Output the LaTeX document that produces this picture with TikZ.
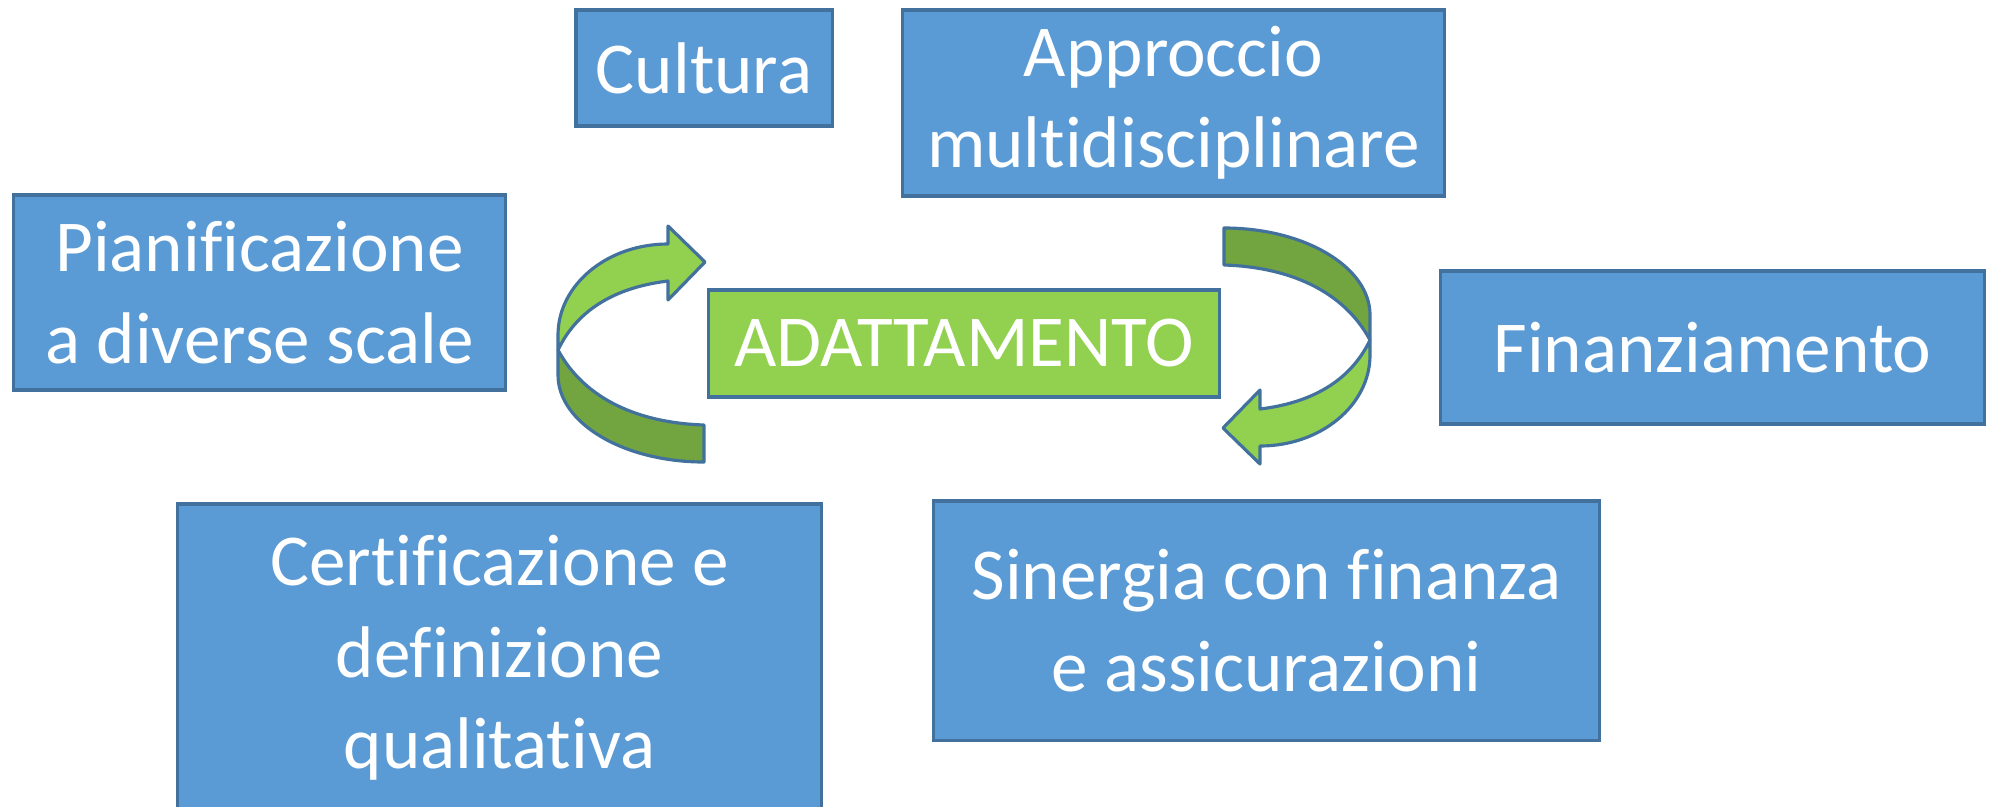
\documentclass[tikz,border=0pt]{standalone}
\usepackage{fontspec}
\setmainfont{Carlito}[Ligatures={NoCommon}]
\definecolor{boxblue}{HTML}{5B9BD5}
\definecolor{edgeblue}{HTML}{41719C}
\definecolor{lightgreen}{HTML}{92D050}
\definecolor{darkgreen}{HTML}{72A540}
\tikzset{
  bbox/.style={draw=edgeblue, fill=boxblue, line width=0.9pt, text=white,
    font=\fontsize{20.8}{26}\selectfont, align=center, inner sep=0pt},
  gbox/.style={bbox, fill=lightgreen},
  ribbon/.style={draw=edgeblue, line width=0.9pt, line join=round}
}
\newcommand{\curvedarrow}{%
  \path[ribbon, fill=darkgreen] (558,350) -- (558,375)
    .. controls (558,423) and (623.4,462) .. (704,462)
    -- (704,425)
    .. controls (640,423) and (585,400) .. (558,350) -- cycle;
  \path[ribbon, fill=lightgreen] (558,350) -- (558,335)
    .. controls (558,284.7) and (607.3,244) .. (668,244)
    -- (668,226) -- (705,262) -- (668,300) -- (668,281)
    .. controls (618,287) and (578,308) .. (558,350) -- cycle;
}
\begin{document}
\begin{tikzpicture}[x=0.01cm, y=-0.01cm]
\useasboundingbox (0,0) rectangle (1995,806);
\node[bbox, minimum width=2.56cm, minimum height=1.16cm] (cul) at (704,68) {Cultura};
\node[bbox, minimum width=5.41cm, minimum height=1.86cm] (app) at (1173.5,103) {Approccio\\multidisciplinare};
\node[bbox, minimum width=4.91cm, minimum height=1.95cm] (pia) at (259.5,292.5) {Pianificazione\\a diverse scale};
\node[bbox, minimum width=5.43cm, minimum height=1.53cm] (fin) at (1712.5,347.5) {Finanziamento};
\node[gbox, minimum width=5.10cm, minimum height=1.07cm] (ada) at (964,343.5) {ADATTAMENTO};
\node[bbox, minimum width=6.43cm, minimum height=3.08cm] (cer) at (499.5,658) {Certificazione e\\definizione\\qualitativa};
\node[bbox, minimum width=6.65cm, minimum height=2.39cm] (sin) at (1266.5,620.5) {Sinergia con finanza\\e assicurazioni};
\curvedarrow
\begin{scope}[rotate around={180:(964,345)}]
\curvedarrow
\end{scope}
\end{tikzpicture}
\end{document}
